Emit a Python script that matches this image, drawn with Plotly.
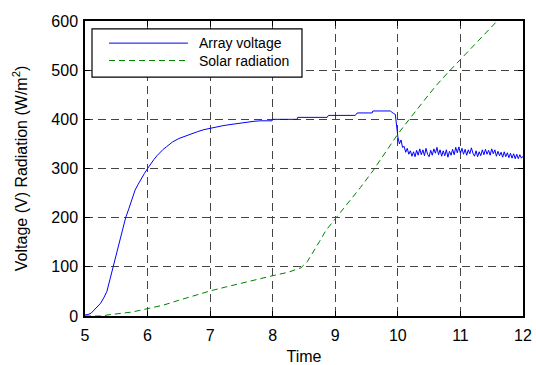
import plotly.graph_objects as go

# Array voltage (V)
volt_t = [5.0, 5.05, 5.1, 5.15, 5.2, 5.25, 5.3, 5.35, 5.4, 5.45, 5.5, 5.55, 5.6, 5.65, 5.7,
          5.75, 5.8, 5.85, 5.9, 5.95, 6.0, 6.05, 6.1, 6.15, 6.2, 6.25, 6.3, 6.35, 6.4, 6.5,
          6.6, 6.7, 6.8, 6.9, 7.0, 7.1, 7.2, 7.3, 7.4, 7.5, 7.6, 7.7, 7.8, 7.99, 8.0, 8.39,
          8.4, 8.87, 8.89, 9.32, 9.35, 9.59, 9.6, 9.88, 9.93, 9.96]
volt_v = [2, 3, 6, 12, 18, 26, 37, 50, 75, 100, 122, 150, 178, 200, 218,
          236, 256, 268, 280, 290, 300, 310, 318, 326, 333, 339, 344, 349, 354, 361,
          366, 371, 375, 379, 382, 384, 387, 389, 391, 393, 395, 396, 397, 397, 400, 400,
          404, 404, 408, 408, 413, 413, 417, 417, 412, 410]
# noisy part after the step (t = 10.0 ... 12.0, step 0.025)
volt_noisy = [364, 350, 358, 343, 345, 333, 341, 329, 336, 325, 334, 324, 337, 327, 340, 328,
              338, 326, 341, 329, 324, 337, 327, 340, 331, 343, 328, 338, 325, 336, 326, 338,
              323, 335, 327, 339, 328, 343, 332, 344, 331, 341, 329, 339, 327, 338, 330, 342,
              331, 325, 336, 324, 334, 326, 338, 328, 339, 329, 337, 327, 340, 330, 338, 325,
              335, 326, 333, 323, 334, 324, 332, 322, 331, 321, 330, 320, 329, 320, 328, 321,
              325]
noisy_t = [round(10.0 + 0.025 * i, 3) for i in range(len(volt_noisy))]

# Solar radiation (W/m^2)
rad_t = [5.0, 5.3, 5.35, 5.5, 5.75, 6.0, 6.25, 6.5, 6.75, 7.0, 7.25, 7.5, 7.75, 8.0, 8.25,
         8.45, 8.55, 8.65, 8.75, 8.85, 9.0, 9.2, 9.4, 9.6, 9.8, 10.0, 10.2, 10.4, 10.6, 10.8,
         11.0, 11.2, 11.4, 11.6, 11.8, 12.0]
rad_v = [0, 0, 2, 4, 8, 15, 22, 32, 42, 51, 59, 67, 74, 82, 89,
         98, 110, 130, 152, 174, 198, 228, 261, 295, 332, 370, 403, 436, 467, 495,
         522, 550, 576, 602, 630, 655]

series_names = ["Array voltage", "Solar radiation"]
series_colors = ["#0000ff", "#008000"]
series_dash = ["solid", "6px,4px"]

x_ticks = [5, 6, 7, 8, 9, 10, 11, 12]
y_ticks = [0, 100, 200, 300, 400, 500, 600]

FONT = "Liberation Sans, Arial, sans-serif"

fig = go.Figure()
fig.add_trace(go.Scatter(x=volt_t + noisy_t, y=volt_v + volt_noisy, mode="lines",
                         name=series_names[0],
                         line=dict(color=series_colors[0], width=1, dash=series_dash[0])))
fig.add_trace(go.Scatter(x=rad_t, y=rad_v, mode="lines", name=series_names[1],
                         line=dict(color=series_colors[1], width=1, dash=series_dash[1])))

axis_common = dict(showline=True, linecolor="black", linewidth=1.5, mirror="ticks",
                   ticks="inside", ticklen=5, tickcolor="black", automargin=False,
                   showgrid=True, gridcolor="#444444", gridwidth=1, griddash="8px,5px",
                   zeroline=False, tickfont=dict(family=FONT, size=16, color="black"))

fig.update_xaxes(range=[5, 12], tickvals=x_ticks, ticktext=[str(v) for v in x_ticks],
                 ticklabelstandoff=4,
                 title=dict(text="Time", font=dict(family=FONT, size=16, color="black"), standoff=13),
                 **axis_common)
fig.update_yaxes(range=[0, 600], tickvals=y_ticks, ticktext=[str(v) for v in y_ticks],
                 ticklabelstandoff=2,
                 title=dict(text="Voltage (V) Radiation (W/m<sup>2</sup>)",
                            font=dict(family=FONT, size=16, color="black"), standoff=20),
                 **axis_common)

# Custom legend box (paper coordinates)
lx0, lx1, ly0, ly1 = 0.016, 0.4954, 0.810, 0.973
row_y = [0.925, 0.866]
sample_x0, sample_x1, text_x = 0.0548, 0.235, 0.2557
shapes = [dict(type="rect", xref="paper", yref="paper", x0=lx0, x1=lx1, y0=ly0, y1=ly1,
               line=dict(color="black", width=1.2), fillcolor="white", layer="above")]
annotations = []
for name, col, dsh, yy in zip(series_names, series_colors, series_dash, row_y):
    shapes.append(dict(type="line", xref="paper", yref="paper", x0=sample_x0, x1=sample_x1,
                       y0=yy, y1=yy, line=dict(color=col, width=1, dash=dsh), layer="above"))
    annotations.append(dict(xref="paper", yref="paper", x=text_x, y=yy, text=name,
                            showarrow=False, xanchor="left", yanchor="middle",
                            font=dict(family=FONT, size=14, color="black")))

fig.update_layout(
    width=536, height=365,
    margin=dict(l=85, r=13, t=21, b=49, autoexpand=False),
    plot_bgcolor="white", paper_bgcolor="white",
    font=dict(family=FONT, size=16, color="black"),
    showlegend=False,
    shapes=shapes, annotations=annotations,
)

fig.write_html("out.html")
